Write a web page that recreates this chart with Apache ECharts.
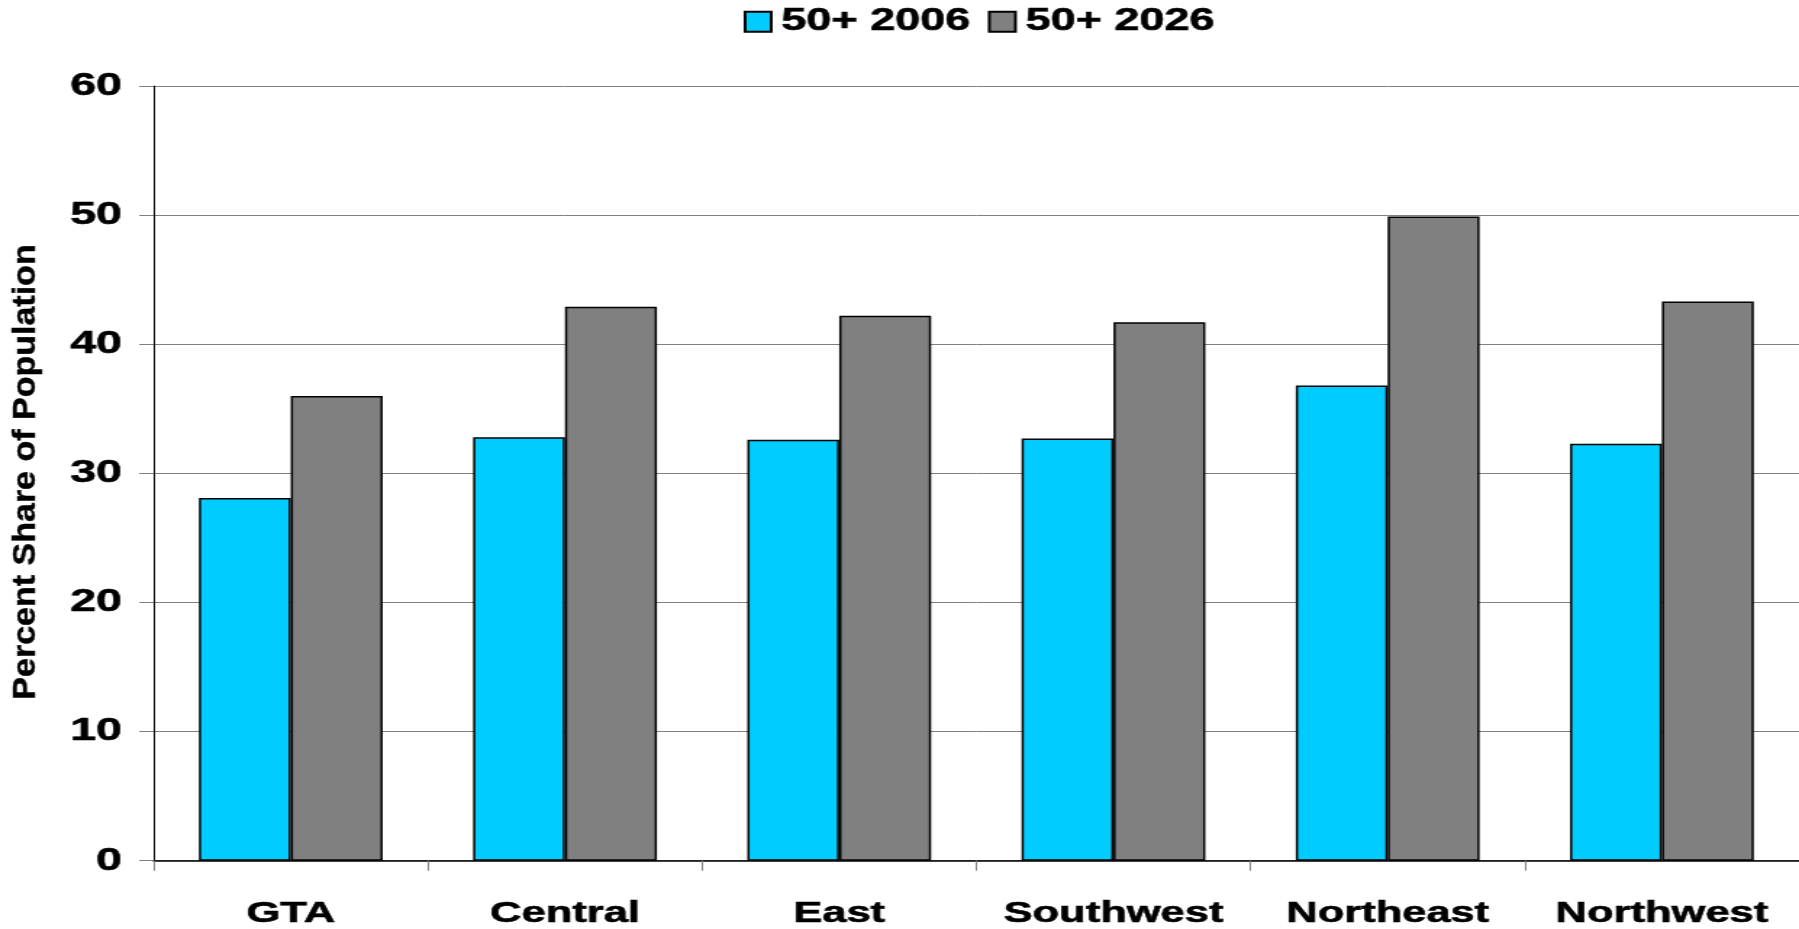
<!DOCTYPE html>
<html>
<head>
<meta charset="utf-8">
<script src="https://cdn.jsdelivr.net/npm/echarts@6/dist/echarts.min.js"></script>
<style>
  html, body { margin: 0; padding: 0; background: #fff; overflow: hidden; }
  #chart { width: 1241px; height: 929px; transform-origin: 0 0; }
</style>
</head>
<body>
<div id="chart"></div>
<script>
// Chart is laid out narrower and widened horizontally, giving the wide lettering
const BASE_WIDTH = 1241;
const STRETCH = 1799 / BASE_WIDTH;

const categories = ['GTA', 'Central', 'East', 'Southwest', 'Northeast', 'Northwest'];
const seriesNames = ['50+ 2006', '50+ 2026'];
const share2006 = [28.1, 32.8, 32.6, 32.7, 36.8, 32.3];
const share2026 = [36.0, 42.9, 42.2, 41.7, 49.9, 43.3];
const yMin = 0, yMax = 60, yStep = 10;
const yTitle = 'Percent Share of Population';

const FONT = "'Liberation Sans', Arial, sans-serif";
// a thin outline in the text colour makes the bold lettering a touch heavier
const heavy = { textBorderColor: '#000', textBorderWidth: 0.6 };

const el = document.getElementById('chart');
el.style.transform = 'scaleX(' + STRETCH + ')';

const chart = echarts.init(el, null, { renderer: 'canvas' });

chart.setOption({
  animation: false,
  backgroundColor: '#ffffff',
  grid: { left: 106, right: 0, top: 86, bottom: 67, containLabel: false },
  legend: {
    left: 508,
    top: 1,
    itemWidth: 18,
    itemHeight: 20,
    itemGap: 12,
    icon: 'rect',
    data: seriesNames,
    textStyle: Object.assign({
      fontFamily: FONT, fontWeight: 'bold', fontSize: 31, color: '#000',
      padding: [0, 0, 0, 2]
    }, heavy)
  },
  xAxis: {
    type: 'category',
    data: categories,
    axisLine: { lineStyle: { color: '#000', width: 1.5 } },
    axisTick: { show: true, interval: 0, length: 10, lineStyle: { color: '#808080', width: 1 } },
    axisLabel: Object.assign({
      interval: 0,
      fontFamily: FONT, fontWeight: 'bold', fontSize: 30, color: '#000', margin: 38
    }, heavy)
  },
  yAxis: {
    type: 'value',
    min: yMin, max: yMax, interval: yStep,
    axisLine: { show: true, lineStyle: { color: '#000', width: 1 } },
    axisTick: { show: true, length: 10, lineStyle: { color: '#808080', width: 1 } },
    splitLine: { show: true, lineStyle: { color: '#808080', width: 1 } },
    axisLabel: Object.assign({
      fontFamily: FONT, fontWeight: 'bold', fontSize: 32, color: '#000', margin: 22
    }, heavy)
  },
  graphic: [{
    type: 'text',
    x: 18,
    y: 472,
    rotation: Math.PI / 2,
    scaleY: 0.97 / STRETCH,
    style: {
      text: yTitle,
      font: 'bold 34px ' + FONT,
      fill: '#000',
      stroke: '#000',
      lineWidth: 0.5,
      align: 'center',
      verticalAlign: 'middle'
    }
  }],
  series: [
    {
      name: seriesNames[0],
      type: 'bar',
      data: share2006,
      barGap: '0%',
      barCategoryGap: '33%',
      itemStyle: { color: '#00CCFF', borderColor: '#000', borderWidth: 1.5 }
    },
    {
      name: seriesNames[1],
      type: 'bar',
      data: share2026,
      barGap: '0%',
      barCategoryGap: '33%',
      itemStyle: { color: '#808080', borderColor: '#000', borderWidth: 1.5 }
    }
  ]
});
</script>
</body>
</html>
